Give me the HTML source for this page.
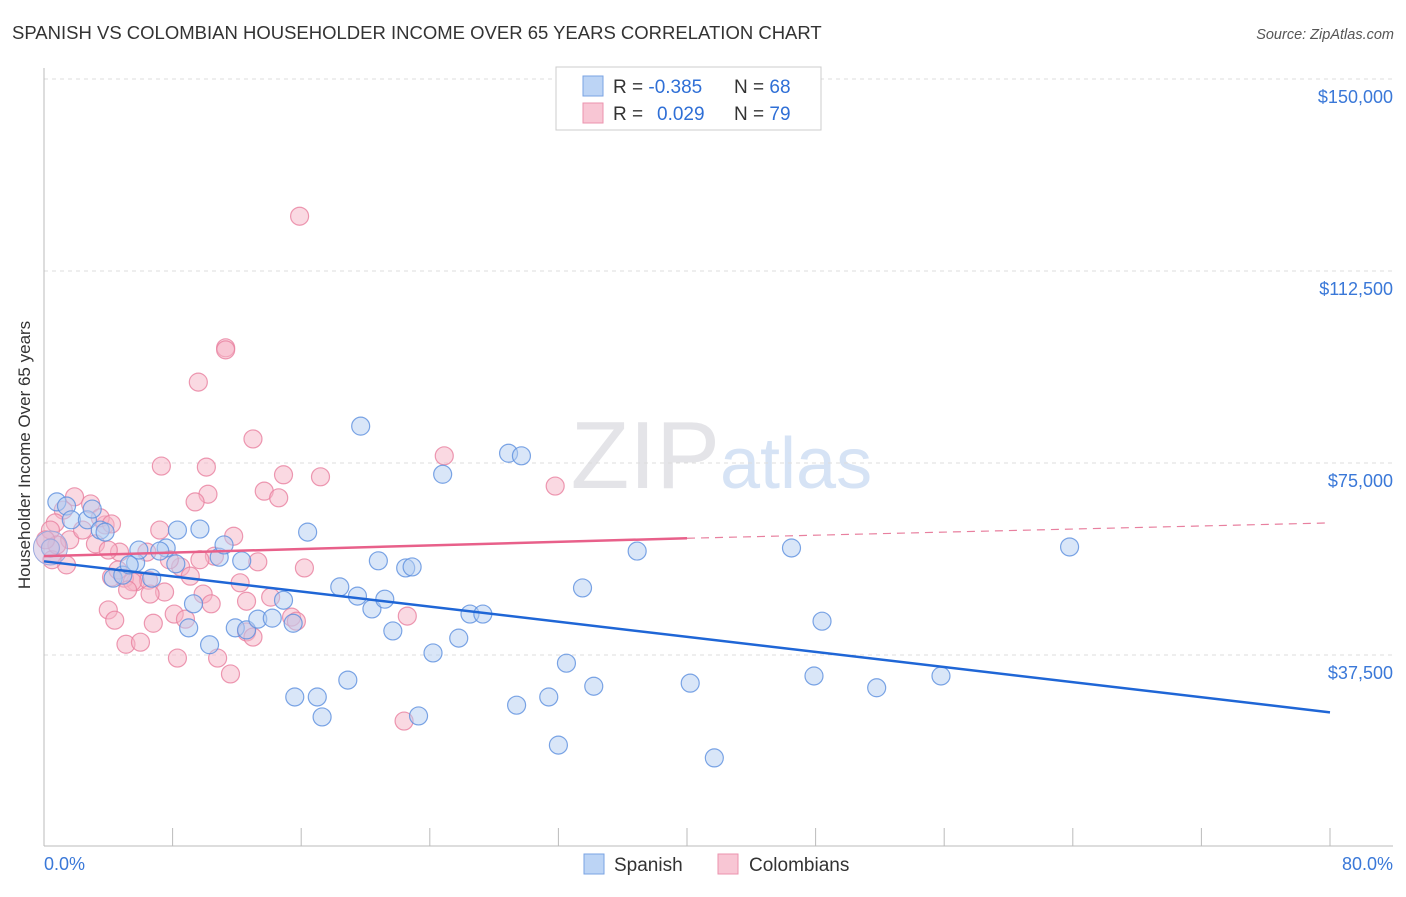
<!DOCTYPE html>
<html><head><meta charset="utf-8"><style>
body{margin:0;background:#fff;font-family:"Liberation Sans",sans-serif;}
svg text{font-family:"Liberation Sans",sans-serif;}
</style></head><body>
<svg width="1406" height="892" xmlns="http://www.w3.org/2000/svg">
<text x="12" y="39" font-size="18.5" fill="#333">SPANISH VS COLOMBIAN HOUSEHOLDER INCOME OVER 65 YEARS CORRELATION CHART</text>
<text x="1394" y="39" font-size="14.5" fill="#555" font-style="italic" text-anchor="end">Source: ZipAtlas.com</text>
<text x="720" y="488" font-size="96" fill="#e4e4e8" text-anchor="end" font-family="Liberation Serif">ZIP</text>
<text x="720" y="488" font-size="72" fill="#d6e3f5">atlas</text>
<g id="grid"></g>
<line x1="44" y1="68" x2="44" y2="846" stroke="#bbb"/>
<line x1="44" y1="846" x2="1393" y2="846" stroke="#bbb"/>
<g id="xticks"></g>
<text x="30" y="455" font-size="17" fill="#333" text-anchor="middle" transform="rotate(-90 30 455)">Householder Income Over 65 years</text>
<text x="44" y="870" font-size="18" fill="#3a78d8">0.0%</text>
<text x="1393" y="870" font-size="18" fill="#3a78d8" text-anchor="end">80.0%</text>
<g id="pts"></g>
<g id="lines"></g>
<g>
<rect x="556" y="67" width="265" height="63" fill="#fff" stroke="#ccc"/>
<rect x="583" y="76" width="20" height="20" fill="#bcd4f5" stroke="#7aa3e3"/>
<rect x="583" y="103" width="20" height="20" fill="#f8c6d4" stroke="#eb93ae"/>
<text x="613" y="93" font-size="19" fill="#333">R = <tspan fill="#2f6fd6">-0.385</tspan><tspan x="734">N = </tspan><tspan fill="#2f6fd6">68</tspan></text>
<text x="613" y="120" font-size="19" fill="#333">R = <tspan fill="#2f6fd6" x="657">0.029</tspan><tspan x="734">N = </tspan><tspan fill="#2f6fd6">79</tspan></text>
</g>
<g>
<rect x="584" y="854" width="20" height="20" fill="#bcd4f5" stroke="#7aa3e3"/>
<text x="614" y="871" font-size="19" fill="#333">Spanish</text>
<rect x="718" y="854" width="20" height="20" fill="#f8c6d4" stroke="#eb93ae"/>
<text x="749" y="871" font-size="19" fill="#333">Colombians</text>
</g>
</svg>
<script>
const yTicks=[37500,75000,112500,150000];
const yTickLabels=["$37,500","$75,000","$112,500","$150,000"];
const xTicks=[0,8,16,24,32,40,48,56,64,72,80];
const spanishX=[0.8,1.4,1.7,2.7,3.5,3.8,4.3,4.9,5.7,5.9,6.7,7.6,8.2,8.3,9.0,9.3,9.7,10.3,10.9,11.2,11.9,12.3,12.6,13.3,14.2,14.9,15.5,15.6,16.4,17.0,17.3,18.4,18.9,19.5,19.7,20.4,20.8,21.2,21.7,22.5,22.9,23.3,24.2,24.8,25.8,26.5,27.3,28.9,29.4,29.7,31.4,32.0,32.5,33.5,34.2,36.9,40.2,41.7,46.5,47.9,48.4,51.8,55.8,63.8,0.4,3.0,5.3,7.2];
const spanishY=[67.4,66.6,63.9,63.9,61.9,61.5,52.5,53.1,55.5,58.0,52.5,58.4,55.3,61.9,42.8,47.5,62.1,39.5,56.6,59.0,42.8,55.9,42.4,44.5,44.7,48.2,43.7,29.3,61.5,29.3,25.4,50.8,32.6,49.0,82.2,46.5,55.9,48.4,42.2,54.5,54.7,25.6,37.9,72.8,40.8,45.5,45.5,76.9,27.7,76.4,29.3,19.9,35.9,50.6,31.4,57.8,32.0,17.4,58.4,33.4,44.1,31.1,33.4,58.6,58.4,66.0,55.1,57.8];
const colX=[15.9,11.3,11.3,9.6,13.0,24.9,31.8,7.3,10.1,17.2,14.9,13.7,14.6,10.2,9.4,1.9,2.9,1.2,3.8,0.7,0.4,3.2,1.6,4.7,6.4,8.5,10.6,13.3,11.8,16.2,9.1,7.5,5.7,6.5,5.0,4.2,4.0,5.5,6.6,8.1,8.8,9.9,10.4,12.2,12.6,14.1,15.4,15.7,6.8,4.4,5.1,6.0,8.3,10.8,11.6,12.6,13.0,22.6,22.4,1.4,0.5,2.4,3.5,4.2,0.8,0.1,4.6,7.8,7.2,9.7,4.0,5.2];
const colY=[123.2,97.5,97.1,90.8,79.7,76.4,70.5,74.4,74.2,72.3,72.7,69.5,68.2,68.9,67.4,68.4,67.0,65.8,62.9,63.3,61.9,59.2,60.0,57.6,57.6,54.7,56.8,55.7,60.7,54.5,52.9,49.8,51.8,52.1,52.5,52.7,46.3,51.8,49.4,45.5,44.5,49.4,47.5,51.6,48.0,48.8,44.9,44.1,43.7,44.3,39.6,40.0,36.9,36.9,33.8,42.0,41.0,45.1,24.6,55.1,56.1,61.9,64.3,63.1,59.0,60.0,54.1,56.1,61.9,56.1,58.0,50.2];
const spanishTrend=[55.8,26.3];
const colTrend=[56.8,60.3,63.3];
const NS="http://www.w3.org/2000/svg";
const xs=v=>44+v/80*1286;
const ys=v=>847-v/37500*192;
function mk(tag,attrs,parent){const e=document.createElementNS(NS,tag);for(const k in attrs)e.setAttribute(k,attrs[k]);document.getElementById(parent).appendChild(e);return e;}
yTicks.forEach((t,i)=>{
 const l=mk('line',{x1:44,x2:1393,y1:ys(t),y2:ys(t),stroke:'#ddd','stroke-dasharray':'4,4'},'grid');
 
 
 const tx=mk('text',{x:1393,y:ys(t)+24,'font-size':18,fill:'#3a78d8','text-anchor':'end'},'grid');
 tx.textContent=yTickLabels[i];
 
 
});
xTicks.forEach(t=>{
 const l=mk('line',{x1:xs(t),x2:xs(t),y1:828,y2:846,stroke:'#bbb'},'xticks');
 
 
});
function pts(X,Y,fill,stroke,name){
 X.forEach((x,i)=>{
  const c=mk('circle',{cx:xs(x),cy:ys(Y[i]*1000),r:9,fill:fill,'fill-opacity':0.5,stroke:stroke,'stroke-width':1.2,'stroke-opacity':0.8},'pts');
  
  
 });
}
pts(colX,colY,'#f5b3c6','#e8809f','colombian-point');
pts(spanishX,spanishY,'#b3cdf2','#5b8fde','spanish-point');
const big=mk('circle',{cx:xs(0.4),cy:ys(58400),r:17,fill:'#c9b8dc','fill-opacity':0.5,stroke:'#9aa8de'},'pts');


const bl=mk('line',{x1:xs(0),y1:ys(spanishTrend[0]*1000),x2:xs(80),y2:ys(spanishTrend[1]*1000),stroke:'#1f66d6','stroke-width':2.5},'lines');


const pl=mk('line',{x1:xs(0),y1:ys(colTrend[0]*1000),x2:xs(40),y2:ys(colTrend[1]*1000),stroke:'#e8608a','stroke-width':2.5},'lines');


const pd=mk('line',{x1:xs(40),y1:ys(colTrend[1]*1000),x2:xs(80),y2:ys(colTrend[2]*1000),stroke:'#e8809f','stroke-width':1.2,'stroke-dasharray':'8,6'},'lines');


</script>
</body></html>
